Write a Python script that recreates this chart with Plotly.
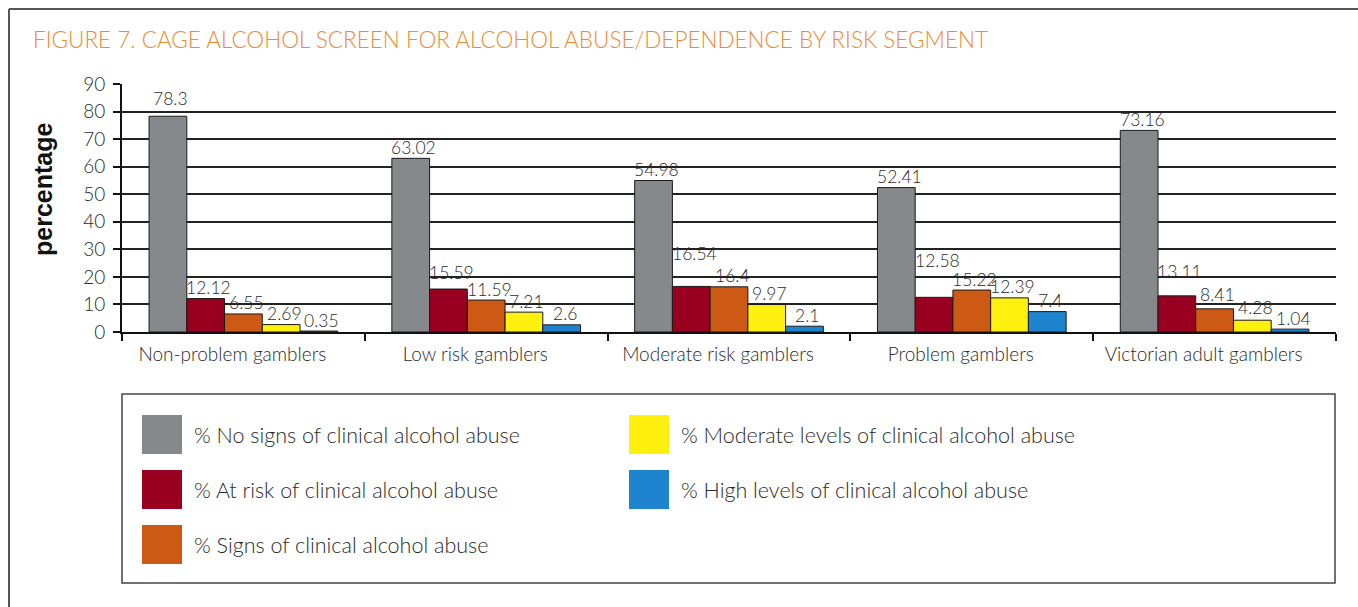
import plotly.graph_objects as go

# Risk segments along the x axis
segments = [
    "Non-problem gamblers",
    "Low risk gamblers",
    "Moderate risk gamblers",
    "Problem gamblers",
    "Victorian adult gamblers",
]

# CAGE screen outcome series (percentages per segment)
series_names = [
    "% No signs of clinical alcohol abuse",
    "% At risk of clinical alcohol abuse",
    "% Signs of clinical alcohol abuse",
    "% Moderate levels of clinical alcohol abuse",
    "% High levels of clinical alcohol abuse",
]
no_signs = [78.3, 63.02, 54.98, 52.41, 73.16]
at_risk = [12.12, 15.59, 16.54, 12.58, 13.11]
signs = [6.55, 11.59, 16.4, 15.22, 8.41]
moderate = [2.69, 7.21, 9.97, 12.39, 4.28]
high = [0.35, 2.6, 2.1, 7.4, 1.04]

series_values = [no_signs, at_risk, signs, moderate, high]
series_colors = ["#85898b", "#990020", "#cc5914", "#fff00f", "#1e84d0"]

y_ticks = [0, 10, 20, 30, 40, 50, 60, 70, 80, 90]

LIGHT = "Lato"
TEXT = "#2a2a2a"

# plot-area geometry in pixels (used to place the decorative frame + legend)
W_PX, H_PX = 1358, 607
L, R, T, B = 122, 1336, 84, 332
BARGAP = 0.223


def px(x):
    return (x - L) / (R - L)


def py(y):
    return (B - y) / (B - T)


# value labels sit ~11px above each bar; a few are lifted further to clear neighbours
DEFAULT_LIFT = 11
label_lift = {
    (0, 0): 18,
    (1, 1): 17,
    (2, 1): 33,
    (3, 1): 37,
    (4, 1): 24,
    (4, 2): 14,
    (4, 3): 13,
}

fig = go.Figure()
for name, vals, col in zip(series_names, series_values, series_colors):
    fig.add_trace(
        go.Bar(
            x=segments,
            y=vals,
            name=name,
            marker=dict(color=col, line=dict(color="#1a1a1a", width=1)),
            showlegend=False,
        )
    )

shapes = []
annotations = []

# value labels, anchored to each bar's own value
cat_px = (R - L) / len(segments)
bar_px = cat_px * (1 - BARGAP) / len(series_names)
n_series = len(series_names)
for si, vals in enumerate(series_values):
    for ci, (seg, v) in enumerate(zip(segments, vals)):
        annotations.append(dict(
            xref="x", yref="y", x=seg, y=v,
            xshift=(si - (n_series - 1) / 2) * bar_px + 3,
            yshift=label_lift.get((ci, si), DEFAULT_LIFT),
            xanchor="center", yanchor="middle",
            text=str(v), showarrow=False,
            font=dict(family=LIGHT, size=17.5, color=TEXT, weight=300),
        ))

# outer frame (left and top edges)
shapes.append(dict(type="line", xref="paper", yref="paper",
                   x0=px(9), x1=px(9), y0=py(9), y1=py(640),
                   line=dict(color="#555555", width=2)))
shapes.append(dict(type="line", xref="paper", yref="paper",
                   x0=px(9), x1=px(1400), y0=py(9), y1=py(9),
                   line=dict(color="#555555", width=2)))

# legend box
shapes.append(dict(type="rect", xref="paper", yref="paper",
                   x0=px(122), x1=px(1335), y0=py(394), y1=py(583),
                   line=dict(color="#444444", width=1.5), fillcolor="rgba(0,0,0,0)"))

# legend entries: two columns
legend_slots = [(142, 415), (142, 470), (142, 525), (629, 415), (629, 470)]
for name, col, (sx, sy) in zip(series_names, series_colors, legend_slots):
    shapes.append(dict(type="rect", xref="paper", yref="paper",
                       x0=px(sx), x1=px(sx + 40), y0=py(sy), y1=py(sy + 39),
                       line=dict(width=0), fillcolor=col))
    annotations.append(dict(xref="paper", yref="paper",
                            x=px(sx + 50), y=py(sy + 20),
                            xanchor="left", yanchor="middle",
                            text=name, showarrow=False,
                            font=dict(family=LIGHT, size=21.5, color=TEXT, weight=300)))

# y-axis title
annotations.append(dict(xref="paper", yref="paper",
                        x=px(43), y=py(190), xanchor="center", yanchor="middle",
                        text="<b>percentage</b>", textangle=-90, showarrow=False,
                        font=dict(family="Liberation Sans", size=25, color="#111111")))

fig.update_layout(
    width=W_PX,
    height=H_PX,
    margin=dict(l=L, r=W_PX - R, t=T, b=H_PX - B, autoexpand=False),
    paper_bgcolor="white",
    plot_bgcolor="white",
    barmode="group",
    bargap=BARGAP,
    bargroupgap=0,
    title=dict(
        text="FIGURE 7. CAGE ALCOHOL SCREEN FOR ALCOHOL ABUSE/DEPENDENCE BY RISK SEGMENT",
        xref="container", yref="container",
        x=33 / W_PX, y=1 - 40 / H_PX, xanchor="left", yanchor="middle",
        font=dict(family=LIGHT, size=22.5, color="#f08a32", weight=300),
    ),
    xaxis=dict(
        type="category",
        showline=True, linecolor="#111111", linewidth=2,
        ticks="outside", tickson="boundaries", ticklen=7, tickcolor="#111111", tickwidth=1.5,
        tickfont=dict(family=LIGHT, size=19, color=TEXT, weight=300),
        ticklabelshift=-11,
        ticklabelstandoff=4,
        showgrid=False,
    ),
    yaxis=dict(
        range=[0, 90],
        tickvals=y_ticks,
        showline=True, linecolor="#111111", linewidth=2,
        ticks="outside", ticklen=7, tickcolor="#111111", tickwidth=1.5,
        tickfont=dict(family=LIGHT, size=19, color=TEXT, weight=300),
        ticklabelstandoff=4,
        showgrid=True, gridcolor="#222222", gridwidth=1.5,
        zeroline=False,
    ),
    shapes=shapes,
    annotations=annotations,
)

fig.write_html("out.html")
